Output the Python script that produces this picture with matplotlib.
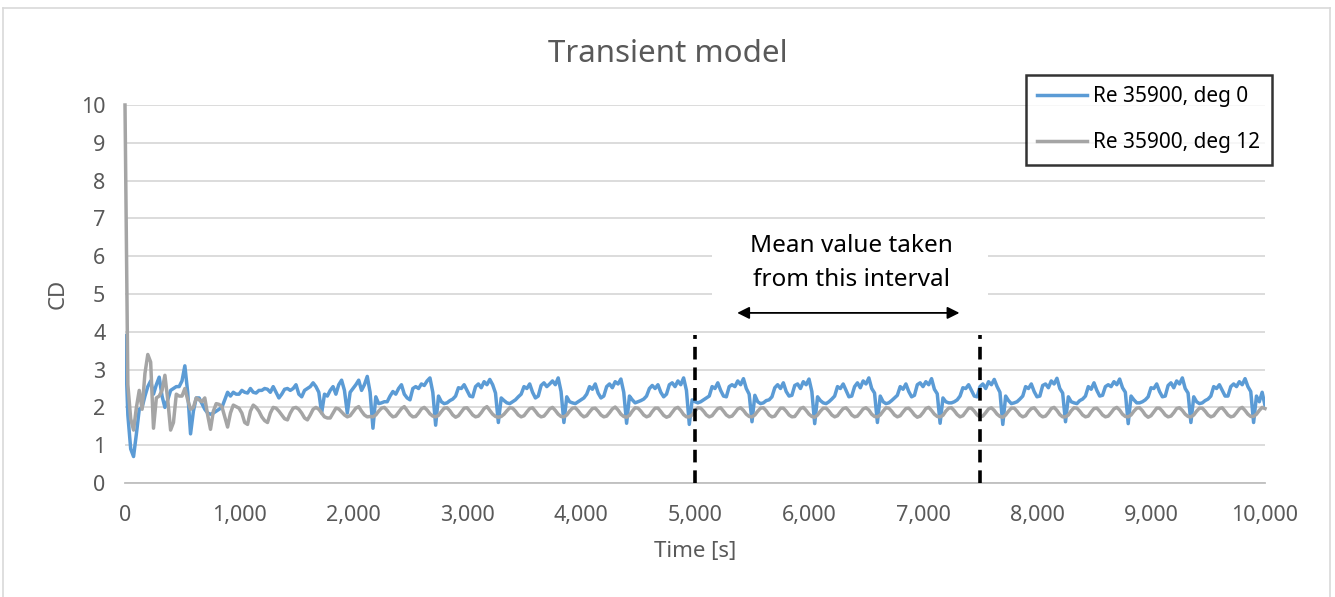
import matplotlib
matplotlib.use("Agg")
import matplotlib.pyplot as plt
import matplotlib.ticker as ticker
from matplotlib.lines import Line2D
from matplotlib.patches import Rectangle

plt.rcParams['font.family'] = ['Noto Sans', 'DejaVu Sans']

# time axis, one sample every 25 s
time_s = list(range(0, 10001, 25))

# CD, Re 35900, deg 0 (blue)
cd_deg0 = [
    # start-up 0 .. 2150 s
    3.9, 1.8, 0.9, 0.7, 1.3, 1.95, 2.0, 2.3, 2.55, 2.7,
    2.35, 2.6, 2.8, 2.3, 2.0, 2.2, 2.45, 2.5, 2.55, 2.55,
    2.7, 3.1, 2.4, 1.3, 1.9, 2.25, 2.25, 2.1, 1.95, 1.85,
    1.82, 1.85, 1.9, 1.95, 2.0, 2.2, 2.4, 2.3, 2.4, 2.35,
    2.35, 2.45, 2.4, 2.38, 2.5, 2.4, 2.38, 2.45, 2.45, 2.5,
    2.48, 2.4, 2.55, 2.4, 2.25, 2.35, 2.48, 2.5, 2.45, 2.5,
    2.6, 2.35, 2.28, 2.45, 2.5, 2.55, 2.65, 2.55, 2.4, 1.85,
    2.35, 2.3, 2.45, 2.55, 2.35, 2.6, 2.72, 2.45, 1.85, 2.4,
    2.5, 2.6, 2.72, 2.45, 2.6, 2.82, 2.4,
    # 2175
    1.45, 2.28, 2.1, 2.12, 2.15, 2.15, 2.3, 2.42, 2.35, 2.5, 2.6, 2.35, 2.25, 2.2, 2.5, 2.55, 2.5, 2.62, 2.58, 2.7, 2.78, 2.4,
    # 2725
    1.53, 2.3, 2.15, 2.1, 2.12, 2.18, 2.22, 2.3, 2.52, 2.5, 2.6, 2.45, 2.3, 2.28, 2.55, 2.62, 2.52, 2.68, 2.6, 2.74, 2.6, 2.38,
    # 3275
    1.6, 2.25, 2.18, 2.12, 2.1, 2.15, 2.2, 2.28, 2.35, 2.55, 2.5, 2.62, 2.4, 2.25, 2.3, 2.58, 2.65, 2.55, 2.62, 2.7, 2.6, 2.78, 2.42,
    # 3850
    1.6, 2.28, 2.15, 2.12, 2.1, 2.15, 2.2, 2.25, 2.35, 2.55, 2.48, 2.62, 2.38, 2.25, 2.3, 2.55, 2.62, 2.52, 2.68, 2.62, 2.75, 2.4,
    # 4400
    1.58, 2.3, 2.2, 2.12, 2.15, 2.18, 2.22, 2.3, 2.5, 2.58, 2.5, 2.6, 2.4, 2.28, 2.35, 2.6, 2.65, 2.55, 2.7, 2.6, 2.78, 2.45,
    # 4950
    1.55, 2.2, 2.15, 2.12, 2.15, 2.2, 2.25, 2.3, 2.55, 2.5, 2.65, 2.45, 2.3, 2.28, 2.55, 2.6, 2.55, 2.7, 2.6, 2.76, 2.5, 2.35,
    # 5500
    1.62, 2.32, 2.15, 2.1, 2.12, 2.18, 2.2, 2.28, 2.52, 2.6, 2.5, 2.65, 2.42, 2.3, 2.32, 2.58, 2.62, 2.5, 2.68, 2.6, 2.75, 2.42,
    # 6050
    1.57, 2.28, 2.18, 2.12, 2.1, 2.15, 2.22, 2.3, 2.55, 2.5, 2.62, 2.45, 2.28, 2.3, 2.55, 2.65, 2.52, 2.7, 2.62, 2.78, 2.5, 2.38,
    # 6600
    1.6, 2.3, 2.15, 2.1, 2.12, 2.18, 2.25, 2.32, 2.55, 2.48, 2.62, 2.42, 2.28, 2.32, 2.6, 2.65, 2.55, 2.68, 2.6, 2.76, 2.48, 2.36,
    # 7150
    1.58, 2.25, 2.15, 2.12, 2.12, 2.15, 2.2, 2.3, 2.52, 2.5, 2.6, 2.45, 2.3, 2.28, 2.55, 2.62, 2.5, 2.68, 2.6, 2.74, 2.55, 2.4,
    # 7700
    1.55, 2.3, 2.18, 2.1, 2.12, 2.15, 2.22, 2.3, 2.55, 2.5, 2.62, 2.42, 2.28, 2.3, 2.58, 2.62, 2.52, 2.7, 2.62, 2.77, 2.5, 2.38,
    # 8250
    1.62, 2.28, 2.15, 2.12, 2.1, 2.18, 2.22, 2.3, 2.55, 2.48, 2.65, 2.45, 2.3, 2.32, 2.55, 2.6, 2.55, 2.68, 2.6, 2.75, 2.52, 2.4,
    # 8800
    1.57, 2.3, 2.2, 2.12, 2.12, 2.15, 2.2, 2.28, 2.52, 2.5, 2.62, 2.42, 2.28, 2.3, 2.58, 2.65, 2.52, 2.7, 2.62, 2.78, 2.5, 2.38,
    # 9350
    1.6, 2.28, 2.15, 2.1, 2.12, 2.18, 2.22, 2.3, 2.55, 2.5, 2.6, 2.45, 2.3, 2.3, 2.55, 2.62, 2.55, 2.68, 2.6, 2.76, 2.55, 2.42,
    # 9900 .. 10000
    1.6, 2.3, 2.15, 2.4, 2.05,
]

# CD, Re 35900, deg 12 (gray)
cd_deg12 = [
    # start-up 0 .. 2150 s
    10.0, 2.6, 1.7, 1.4, 2.0, 2.45, 1.95, 2.9, 3.4, 3.2,
    1.45, 2.25, 2.3, 2.45, 2.85, 2.2, 1.4, 1.6, 2.35, 2.3,
    2.3, 2.5, 2.2, 1.95, 2.0, 2.25, 2.2, 2.15, 2.25, 1.8,
    1.42, 1.9, 2.1, 2.08, 2.02, 1.75, 1.48, 1.85, 2.06, 2.02,
    1.98, 1.85, 1.6, 1.55, 1.9, 2.06, 2.0, 1.9, 1.75, 1.65,
    1.6, 1.85, 2.0, 1.98, 1.9, 1.8, 1.7, 1.67, 1.85, 1.98,
    2.0, 1.95, 1.85, 1.72, 1.67, 1.8, 1.95, 2.0, 1.95, 1.85,
    1.75, 1.72, 1.72, 1.85, 1.98, 1.96, 1.88, 1.8, 1.75, 1.78,
    1.88, 1.98, 2.02, 1.9, 1.8, 1.75, 1.76,
    # 2175
    1.75, 1.8, 1.9, 1.98, 2.0, 1.92, 1.82, 1.75, 1.77, 1.87, 1.97, 2.02, 1.92, 1.81, 1.75, 1.76, 1.85, 1.96, 2.0, 1.93, 1.83, 1.77,
    # 2725
    1.75, 1.79, 1.89, 1.98, 1.99, 1.91, 1.8, 1.74, 1.78, 1.88, 1.98, 1.99, 1.9, 1.8, 1.75, 1.77, 1.86, 1.97, 2.02, 1.92, 1.82, 1.76,
    # 3275
    1.74, 1.76, 1.82, 1.91, 1.99, 1.98, 1.9, 1.8, 1.75, 1.78, 1.88, 1.97, 1.99, 1.9, 1.8, 1.75, 1.77, 1.86, 1.96, 2.0, 1.92, 1.82, 1.76,
    # 3850
    1.75, 1.8, 1.9, 1.98, 1.99, 1.91, 1.81, 1.75, 1.78, 1.88, 1.97, 1.98, 1.9, 1.8, 1.75, 1.77, 1.86, 1.96, 2.01, 1.93, 1.82, 1.76,
    # 4400
    1.74, 1.79, 1.9, 1.99, 1.98, 1.9, 1.8, 1.75, 1.78, 1.89, 1.98, 1.98, 1.89, 1.79, 1.74, 1.77, 1.87, 1.97, 2.0, 1.92, 1.81, 1.75,
    # 4950
    1.75, 1.8, 1.91, 1.99, 1.98, 1.9, 1.8, 1.75, 1.78, 1.88, 1.97, 1.99, 1.9, 1.8, 1.75, 1.77, 1.86, 1.96, 1.99, 1.92, 1.82, 1.76,
    # 5500
    1.75, 1.8, 1.9, 1.98, 1.99, 1.91, 1.8, 1.75, 1.77, 1.88, 1.98, 1.98, 1.9, 1.8, 1.75, 1.76, 1.86, 1.97, 2.0, 1.92, 1.82, 1.76,
    # 6050
    1.74, 1.8, 1.9, 1.98, 1.98, 1.9, 1.8, 1.75, 1.78, 1.88, 1.97, 1.99, 1.91, 1.8, 1.75, 1.77, 1.86, 1.96, 1.99, 1.93, 1.82, 1.76,
    # 6600
    1.75, 1.8, 1.9, 1.99, 1.98, 1.9, 1.8, 1.75, 1.78, 1.88, 1.97, 1.98, 1.9, 1.8, 1.74, 1.77, 1.86, 1.97, 2.0, 1.92, 1.82, 1.76,
    # 7150
    1.75, 1.79, 1.9, 1.98, 1.99, 1.91, 1.81, 1.75, 1.78, 1.88, 1.98, 1.98, 1.9, 1.8, 1.75, 1.77, 1.86, 1.96, 1.99, 1.92, 1.82, 1.76,
    # 7700
    1.74, 1.8, 1.9, 1.98, 1.98, 1.9, 1.8, 1.75, 1.78, 1.89, 1.97, 1.99, 1.9, 1.8, 1.75, 1.77, 1.86, 1.97, 2.0, 1.92, 1.81, 1.75,
    # 8250
    1.75, 1.8, 1.91, 1.99, 1.98, 1.9, 1.8, 1.75, 1.77, 1.88, 1.97, 1.98, 1.9, 1.8, 1.75, 1.77, 1.86, 1.96, 2.0, 1.93, 1.82, 1.76,
    # 8800
    1.75, 1.8, 1.9, 1.98, 1.99, 1.91, 1.8, 1.74, 1.78, 1.88, 1.98, 1.98, 1.9, 1.8, 1.75, 1.77, 1.86, 1.97, 1.99, 1.92, 1.82, 1.76,
    # 9350
    1.75, 1.8, 1.9, 1.98, 1.98, 1.9, 1.8, 1.75, 1.78, 1.88, 1.97, 1.99, 1.9, 1.8, 1.75, 1.77, 1.86, 1.96, 2.0, 1.92, 1.82, 1.76,
    # 9900 .. 10000
    1.76, 1.82, 1.92, 2.0, 1.97,
]

interval = [5000, 7500]
labels = ["Re 35900, deg 0", "Re 35900, deg 12"]

text_col = '#595959'

fig = plt.figure(figsize=(13.35, 5.97), dpi=100)
ax = fig.add_axes([125/1335, 1-483/597, 1140/1335, 378/597])

ax.plot(time_s, cd_deg0, color='#5B9BD5', linewidth=2.5, label=labels[0], zorder=3)
ax.plot(time_s, cd_deg12, color='#A5A5A5', linewidth=2.5, label=labels[1], zorder=4, clip_on=False)

for t in interval:
    ax.plot([t, t], [0, 3.92], color='black', linewidth=2.6, linestyle=(0, (3.5, 2.2)), zorder=5)

# white text box that hides the gridlines behind the note
ax.add_patch(Rectangle((5150, 4.85), 2420, 1.9, facecolor='white', edgecolor='none', zorder=2))
ax.annotate('', xy=(7320, 4.5), xytext=(5370, 4.5),
            arrowprops=dict(arrowstyle='<|-|>', color='black', lw=1.3, mutation_scale=18,
                            shrinkA=0, shrinkB=0), zorder=6)
ax.text(6370, 5.82, 'Mean value taken\nfrom this interval', ha='center', va='center',
        fontsize=17.5, color='black', linespacing=1.55, zorder=6)

ax.set_xlim(0, 10000)
ax.set_ylim(0, 10)
ax.xaxis.set_major_locator(ticker.MultipleLocator(1000))
ax.yaxis.set_major_locator(ticker.MultipleLocator(1))
ax.xaxis.set_major_formatter(ticker.FuncFormatter(lambda v, p: '{:,.0f}'.format(v)))
ax.grid(axis='y', color='#D9D9D9', linewidth=1.3, zorder=0)
ax.set_axisbelow(True)
for s in ['top', 'right', 'left']:
    ax.spines[s].set_visible(False)
ax.spines['bottom'].set_color('#BFBFBF')
ax.spines['bottom'].set_linewidth(1.3)
ax.tick_params(axis='both', length=0, labelsize=15.5, labelcolor=text_col)
ax.tick_params(axis='x', pad=16)
ax.tick_params(axis='y', pad=14)

ax.set_xlabel('Time [s]', fontsize=16, color=text_col, labelpad=11)
ax.set_ylabel('CD', fontsize=16, color=text_col, labelpad=9)

fig.text(0.5, 1-54/597, 'Transient model', ha='center', va='center', fontsize=22.5, color=text_col)

leg = ax.legend(loc='upper right', bbox_to_anchor=(1272/1335, 1-75/597), bbox_transform=fig.transFigure,
                fontsize=15, frameon=True, fancybox=False, handlelength=2.4, handletextpad=0.3,
                labelspacing=1.2, borderpad=0.55, borderaxespad=0)
leg.get_frame().set_edgecolor('black')
leg.get_frame().set_linewidth(1.8)
leg.set_zorder(10)

# light outer chart border
for xs, ys in [([3/1335, 3/1335], [0, 1-8/597]), ([3/1335, 1330/1335], [1-8/597, 1-8/597]),
               ([1330/1335, 1330/1335], [1-8/597, 0])]:
    fig.add_artist(Line2D(xs, ys, color='#D9D9D9', linewidth=1.2))

fig.savefig('out.png', dpi=100)
